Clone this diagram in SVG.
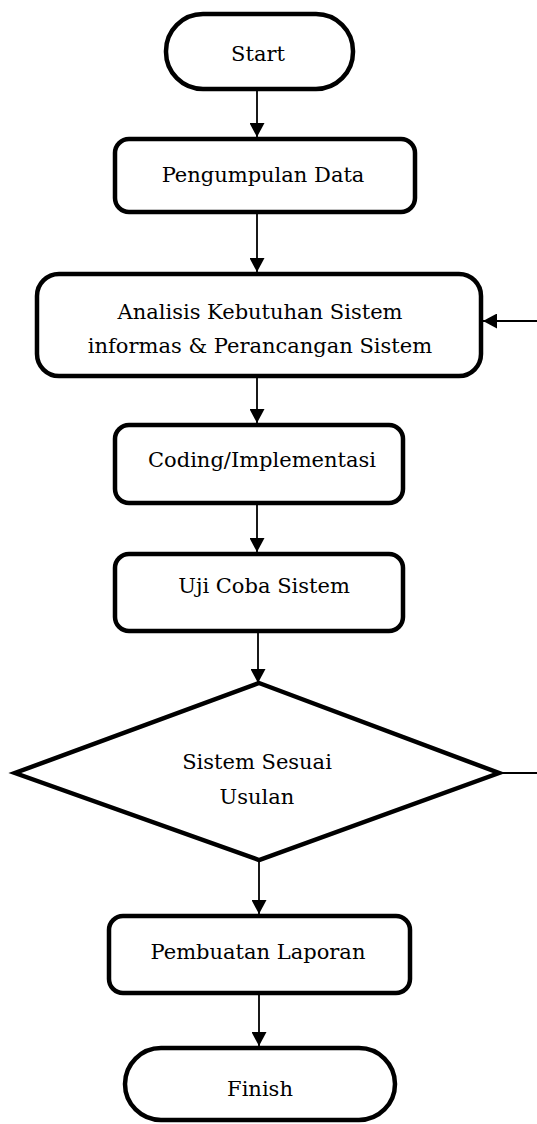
<svg xmlns="http://www.w3.org/2000/svg" width="537" height="1124" viewBox="0 0 537 1124">
<style>
.node{fill:#fff;stroke:#000;stroke-width:4.5}
.lbl{font-family:'DejaVu Serif',serif;font-size:21px;fill:#000;text-anchor:middle}
.conn{stroke:#000;stroke-width:1.8;fill:none}
</style>
<defs>
<marker id="ah" viewBox="0 0 14 15" refX="14" refY="7.5" markerWidth="14" markerHeight="15" markerUnits="userSpaceOnUse" orient="auto">
<path d="M0,0 L14,7.5 L0,15 z" fill="#000"/>
</marker>
</defs>
<rect width="537" height="1124" fill="#fff"/>
<g id="connectors">
<line class="conn" x1="257" y1="91" x2="257" y2="137" marker-end="url(#ah)"/>
<line class="conn" x1="257" y1="214" x2="257" y2="272" marker-end="url(#ah)"/>
<line class="conn" x1="257" y1="378" x2="257" y2="423" marker-end="url(#ah)"/>
<line class="conn" x1="257" y1="505" x2="257" y2="552" marker-end="url(#ah)"/>
<line class="conn" x1="258" y1="633" x2="258" y2="683" marker-end="url(#ah)"/>
<line class="conn" x1="259" y1="860" x2="259" y2="914" marker-end="url(#ah)"/>
<line class="conn" x1="259" y1="995" x2="259" y2="1046" marker-end="url(#ah)"/>
<line class="conn" x1="537" y1="321" x2="483" y2="321" marker-end="url(#ah)"/>
<line class="conn" x1="499" y1="773" x2="537" y2="773"/>
</g>
<g id="start">
<rect class="node" x="166" y="14" width="187" height="75" rx="37" ry="37"/>
<text class="lbl" x="258" y="61">Start</text>
</g>
<g id="pengumpulan">
<rect class="node" x="115" y="139" width="300" height="73" rx="14" ry="14"/>
<text class="lbl" x="263" y="182">Pengumpulan Data</text>
</g>
<g id="analisis">
<rect class="node" x="37" y="274" width="444" height="102" rx="22" ry="22"/>
<text class="lbl" x="260" y="319">Analisis Kebutuhan Sistem</text>
<text class="lbl" x="260" y="353">informas &amp; Perancangan Sistem</text>
</g>
<g id="coding">
<rect class="node" x="115" y="425" width="288" height="78" rx="14" ry="14"/>
<text class="lbl" x="262" y="467">Coding/Implementasi</text>
</g>
<g id="uji">
<rect class="node" x="115" y="554" width="288" height="77" rx="14" ry="14"/>
<text class="lbl" x="264" y="593">Uji Coba Sistem</text>
</g>
<g id="decision">
<polygon class="node" points="259,683 499,773 259,860 15,773"/>
<text class="lbl" x="257" y="769">Sistem Sesuai</text>
<text class="lbl" x="257" y="804">Usulan</text>
</g>
<g id="laporan">
<rect class="node" x="109" y="916" width="301" height="77" rx="14" ry="14"/>
<text class="lbl" x="258" y="959">Pembuatan Laporan</text>
</g>
<g id="finish">
<rect class="node" x="125" y="1048" width="270" height="72" rx="36" ry="36"/>
<text class="lbl" x="260" y="1096">Finish</text>
</g>
</svg>
